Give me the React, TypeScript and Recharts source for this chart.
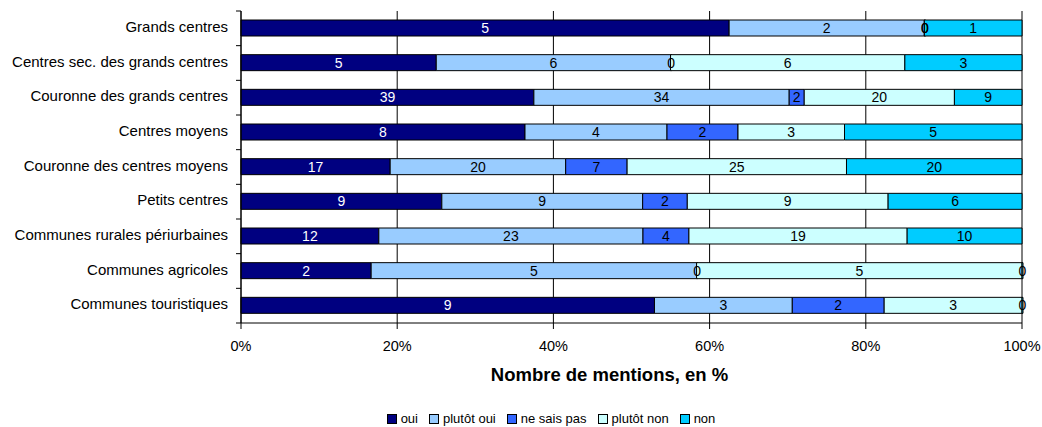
import React from "react";
import {
  BarChart,
  Bar,
  XAxis,
  YAxis,
  CartesianGrid,
  LabelList,
  Legend,
} from "recharts";

const categories = [
  "Grands centres",
  "Centres sec. des grands centres",
  "Couronne des grands centres",
  "Centres moyens",
  "Couronne des centres moyens",
  "Petits centres",
  "Communes rurales périurbaines",
  "Communes agricoles",
  "Communes touristiques",
];

const oui = [5, 5, 39, 8, 17, 9, 12, 2, 9];
const plutotOui = [2, 6, 34, 4, 20, 9, 23, 5, 3];
const neSaisPas = [0, 0, 2, 2, 7, 2, 4, 0, 2];
const plutotNon = [0, 6, 20, 3, 25, 9, 19, 5, 3];
const non = [1, 3, 9, 5, 20, 6, 10, 0, 0];

const xTicks = [0, 0.2, 0.4, 0.6, 0.8, 1];

const seriesNames = ["oui", "plutôt oui", "ne sais pas", "plutôt non", "non"];
const seriesKeys = ["oui", "plutotOui", "neSaisPas", "plutotNon", "non"];
const seriesColors = ["#000080", "#99CCFF", "#3366FF", "#CCFFFF", "#00CCFF"];
const labelColors = ["#FFFFFF", "#000000", "#000000", "#000000", "#000000"];

const data = categories.map((c, i) => ({
  name: c,
  oui: oui[i],
  plutotOui: plutotOui[i],
  neSaisPas: neSaisPas[i],
  plutotNon: plutotNon[i],
  non: non[i],
}));

const W = 1042;
const H = 427;
const MARGIN = { top: 11, right: 20, bottom: 0, left: 0 };
const Y_W = 241;
const X_H = 70;
const LEG_H = 34;
const PLOT_H = H - MARGIN.top - X_H - LEG_H;
const BAND = PLOT_H / categories.length;
const FONT = "'Liberation Sans', Arial, sans-serif";

const YTick = (props: any) => {
  const { x, y, payload, index } = props;
  const axisX = x + 8;
  return (
    <g>
      <line x1={axisX - 5} x2={axisX} y1={y - BAND / 2} y2={y - BAND / 2} stroke="#000" />
      {index === categories.length - 1 && (
        <line x1={axisX - 5} x2={axisX} y1={y + BAND / 2} y2={y + BAND / 2} stroke="#000" />
      )}
      <text
        x={axisX - 13}
        y={y}
        dy={3.5}
        textAnchor="end"
        fontSize={15}
        fontFamily={FONT}
        fill="#000"
      >
        {payload.value}
      </text>
    </g>
  );
};

const LegendContent = () => (
  <div
    style={{
      paddingTop: 19,
      paddingLeft: 80,
      textAlign: "center",
      fontFamily: FONT,
      fontSize: 13,
      lineHeight: "14px",
      whiteSpace: "nowrap",
      color: "#000",
    }}
  >
    {seriesNames.map((n, i) => (
      <span key={n} style={{ marginRight: i < seriesNames.length - 1 ? 11 : 0 }}>
        <span
          style={{
            display: "inline-block",
            width: 8,
            height: 8,
            background: seriesColors[i],
            border: "1px solid #000",
            marginRight: 4,
            verticalAlign: "-1px",
          }}
        />
        {n}
      </span>
    ))}
  </div>
);

export default function App() {
  return (
    <div style={{ position: "absolute", left: 0, top: 0, background: "#fff" }}>
      <BarChart
        width={W}
        height={H}
        data={data}
        layout="vertical"
        stackOffset="expand"
        margin={MARGIN}
        barSize={16}
      >
        <CartesianGrid vertical={true} horizontal={false} stroke="#000" />
        <XAxis
          type="number"
          domain={[0, 1]}
          ticks={xTicks}
          tickFormatter={(v: number) => `${Math.round(v * 100)}%`}
          height={X_H}
          tickSize={6}
          tickMargin={12}
          axisLine={{ stroke: "#000" }}
          tickLine={{ stroke: "#000" }}
          tick={{ fontSize: 14.5, fontFamily: FONT, fill: "#000" }}
          interval={0}
          label={(p: any) => {
            const vb = p.viewBox || {};
            return (
              <text
                x={vb.x + vb.width / 2 - 22}
                y={vb.y + 58}
                textAnchor="middle"
                fontSize={18.5}
                fontWeight="bold"
                fontFamily={FONT}
                fill="#000"
              >
                Nombre de mentions, en %
              </text>
            );
          }}
        />
        <XAxis
          xAxisId="top"
          orientation="top"
          type="number"
          domain={[0, 1]}
          height={0}
          tick={false}
          tickLine={false}
          axisLine={{ stroke: "#A8A8A8" }}
        />
        <YAxis
          type="category"
          dataKey="name"
          width={Y_W}
          axisLine={{ stroke: "#000" }}
          tickLine={false}
          tick={<YTick />}
          interval={0}
        />
        <YAxis
          yAxisId="right"
          orientation="right"
          type="number"
          width={0}
          tick={false}
          tickLine={false}
          axisLine={{ stroke: "#A8A8A8" }}
        />
        <Legend
          verticalAlign="bottom"
          height={LEG_H}
          content={<LegendContent />}
          wrapperStyle={{ height: LEG_H }}
        />
        {seriesKeys.map((k, i) => (
          <Bar
            key={k}
            dataKey={k}
            name={seriesNames[i]}
            stackId="a"
            fill={seriesColors[i]}
            stroke="#000"
            strokeWidth={1}
            minPointSize={1}
            isAnimationActive={false}
          >
            <LabelList
              dataKey={k}
              position="center"
              fill={labelColors[i]}
              fontSize={14}
              fontFamily={FONT}
            />
          </Bar>
        ))}
      </BarChart>
    </div>
  );
}
